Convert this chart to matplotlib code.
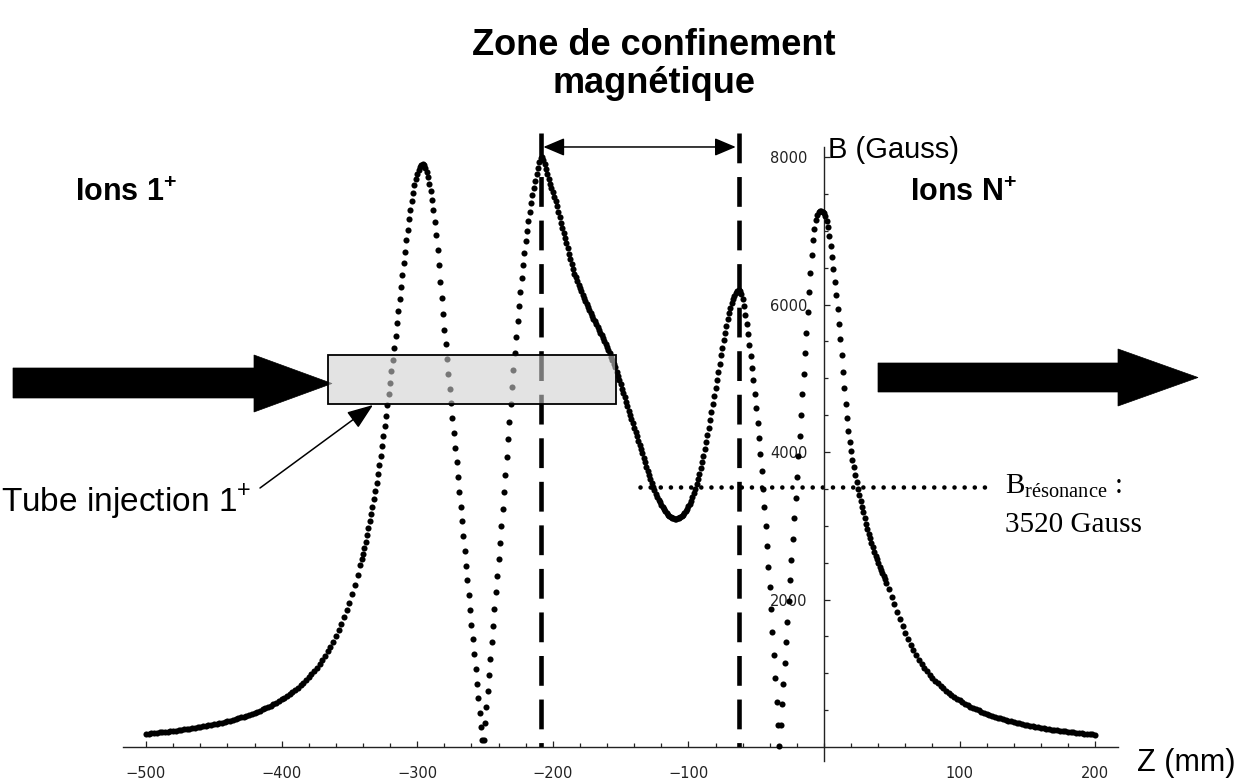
import numpy as np
import matplotlib
matplotlib.use("Agg")
import matplotlib.pyplot as plt
from matplotlib.patches import Polygon, Rectangle
from matplotlib.ticker import FixedLocator

plt.rcParams["mathtext.fontset"] = "custom"
plt.rcParams["mathtext.rm"] = "Liberation Serif"
plt.rcParams["mathtext.bf"] = "Liberation Sans:bold"
plt.rcParams["mathtext.sf"] = "Liberation Sans"

# ---- axial field profile B(z), gauss ----
# gentle tails sampled every 2 mm, the central region every 1 mm
b_tail_left = [178, 182, 185, 189, 193, 197, 201, 205, 209, 214,
               218, 223, 228, 233, 238, 243, 249, 254, 260, 266,
               273, 279, 286, 293, 300, 308, 316, 324, 332, 341,
               350, 359, 369, 379, 390, 401, 413, 425, 438, 451,
               465, 479, 494, 510, 527, 544, 562, 581, 601, 623,
               645, 668, 692, 719, 746, 775, 805, 838, 872, 908,
               947, 988, 1031, 1078, 1127, 1179, 1236, 1295, 1360, 1429,
               1502, 1580, 1665, 1756, 1853, 1958, 2071, 2194, 2326, 2467]   # z = -500 .. -342
b_peak1_rise = [2543, 2620, 2702, 2786, 2874, 2964, 3058, 3156, 3258, 3363,
                3473, 3586, 3704, 3824, 3950, 4080, 4213, 4350, 4492, 4638,
                4787, 4939, 5095, 5254, 5415, 5578, 5743, 5908, 6074, 6238,
                6401, 6561, 6718, 6871, 7017, 7156, 7286, 7407, 7517, 7615,
                7700, 7771, 7827, 7867, 7892]                                  # z = -341 .. -297
b_peak1_fall = [7900, 7885, 7850, 7795, 7725, 7640, 7540, 7420, 7280, 7120,
                6940, 6740, 6530, 6310, 6090, 5870, 5660, 5460, 5260, 5060,
                4860, 4660, 4460, 4260, 4060, 3860, 3660, 3460, 3260, 3060,
                2860, 2660, 2460, 2260, 2060, 1860, 1660, 1460, 1260, 1060,
                860, 660, 460, 270, 90]                                        # z = -296 .. -252
b_peak2_rise = [100, 320, 540, 760, 980, 1200, 1420, 1645, 1870, 2095,
                2320, 2545, 2770, 3000, 3230, 3460, 3690, 3930, 4170, 4410,
                4650, 4885, 5115, 5340, 5560, 5775, 5980, 6175, 6360, 6535,
                6700, 6855, 7000, 7135, 7260, 7375, 7480, 7580, 7675, 7765,
                7850, 7930, 7990]                                              # z = -251 .. -209
b_peak2_fall = [7995, 7960, 7900, 7840, 7775, 7708, 7640, 7580, 7520, 7460,
                7400, 7330, 7255, 7180, 7110, 7040, 6970, 6900, 6830, 6760,
                6690, 6620, 6553, 6486, 6420, 6368, 6318, 6268, 6220, 6177,
                6135, 6093, 6051, 6010, 5970, 5930, 5890, 5850, 5810, 5772,
                5734, 5696, 5658, 5620, 5580, 5540, 5500, 5460, 5420, 5378,
                5336, 5292, 5247, 5200, 5146, 5090, 5034, 4977, 4920, 4860,
                4800, 4740, 4680, 4620, 4562, 4504, 4446, 4388, 4330, 4272,
                4214, 4156, 4098, 4040, 3980, 3920, 3860, 3800, 3740, 3684,
                3630, 3578, 3528, 3480, 3436, 3394, 3354, 3316, 3280, 3250,
                3222, 3196, 3172, 3150, 3132, 3118, 3107, 3099]                # z = -208 .. -111
b_valley_rise = [3095, 3096, 3100, 3108, 3118, 3132, 3150, 3172, 3198, 3228,
                 3262, 3300, 3342, 3390, 3442, 3500, 3562, 3628, 3700, 3778,
                 3860, 3946, 4036, 4130, 4228, 4330, 4435, 4542, 4650, 4760,
                 4870, 4980, 5090, 5200, 5310, 5415, 5518, 5618, 5712, 5800,
                 5880, 5952, 6016, 6072, 6118, 6155, 6182, 6198]               # z = -110 .. -63
b_peak3_fall = [6185, 6140, 6070, 5975, 5860, 5735, 5600, 5455, 5300, 5140,
                4970, 4790, 4600, 4400, 4190, 3970, 3740, 3500, 3250, 2990,
                2720, 2445, 2165, 1870, 1560, 1250, 930, 610, 300, 20]         # z = -62 .. -33
b_peak4_rise = [300, 580, 860, 1140, 1420, 1700, 1980, 2260, 2540, 2820,
                3100, 3380, 3660, 3940, 4220, 4500, 4780, 5060, 5340, 5620,
                5900, 6170, 6430, 6670, 6870, 7030, 7140, 7210, 7250, 7265,
                7265, 7255]                                                    # z = -32 .. -1
b_peak4_fall = [7235, 7195, 7130, 7045, 6935, 6800, 6650, 6485, 6310, 6130,
                5940, 5740, 5530, 5310, 5090, 4870, 4650, 4460, 4290, 4140,
                4010, 3895, 3790, 3690, 3595, 3505, 3420, 3338, 3258, 3180,
                3104, 3030, 2960, 2892, 2828, 2766, 2707, 2650, 2596, 2544,
                2494, 2446, 2400, 2356, 2314, 2273]                            # z = 0 .. 45
b_tail_right = [2230, 2140, 2040, 1935, 1830, 1730, 1635, 1545, 1462, 1385,
                1313, 1247, 1186, 1129, 1077, 1027, 982, 940, 900, 863,
                828, 795, 764, 734, 706, 680, 655, 631, 609, 588,
                567, 548, 530, 512, 496, 480, 465, 450, 437, 424,
                411, 399, 387, 376, 366, 356, 346, 337, 328, 319,
                311, 303, 295, 288, 280, 274, 267, 261, 254, 248,
                243, 237, 232, 227, 222, 217, 212, 207, 203, 199,
                195, 191, 187, 183, 180, 176, 173, 169]                        # z = 46 .. 200

segments = [(-500, 2, b_tail_left), (-341, 1, b_peak1_rise), (-296, 1, b_peak1_fall),
            (-251, 1, b_peak2_rise), (-208, 1, b_peak2_fall), (-110, 1, b_valley_rise),
            (-62, 1, b_peak3_fall), (-32, 1, b_peak4_rise), (0, 1, b_peak4_fall),
            (46, 2, b_tail_right)]
z_all = np.concatenate([start + step * np.arange(len(vals)) for start, step, vals in segments])
b_all = np.concatenate([np.asarray(vals, dtype=float) for _, _, vals in segments])

x_ticks = [-500, -400, -300, -200, -100, 100, 200]
y_ticks = [2000, 4000, 6000, 8000]
z_zone = [-209, -63]          # limits of the confinement zone (mm)
b_resonance = 3520            # ECR resonance field (G)

# ---- figure ----
W, H = 1250, 781
fig = plt.figure(figsize=(W / 100, H / 100), dpi=100)
ax = fig.add_axes([0, 0, 1, 1])
ax.set_xlim(-607.7, 314.2)
ax.set_ylim(-461, 10129)


def fx(px):
    return px / W


def fy(py):
    return 1 - py / H


axis_col = "#222222"
for s in ("top", "right"):
    ax.spines[s].set_visible(False)
ax.spines["left"].set_position(("data", 0))
ax.spines["bottom"].set_position(("data", 0))
ax.spines["left"].set_bounds(-190, 8140)
ax.spines["bottom"].set_bounds(-517, 217)
for s in ("left", "bottom"):
    ax.spines[s].set_linewidth(1.0)
    ax.spines[s].set_color(axis_col)

ax.xaxis.set_major_locator(FixedLocator(x_ticks))
ax.xaxis.set_minor_locator(FixedLocator(np.arange(-500, 201, 20)))
ax.yaxis.set_major_locator(FixedLocator(y_ticks))
ax.yaxis.set_minor_locator(FixedLocator(np.arange(500, 8001, 500)))
ax.tick_params(which="major", direction="in", length=4.6, width=0.9, color=axis_col,
               labelsize=10.5, labelcolor="#222222", pad=12)
ax.tick_params(axis="x", which="major", pad=14)
ax.tick_params(which="minor", direction="in", length=2.6, width=0.9, color=axis_col)
ax.xaxis.set_ticks_position("bottom")
ax.yaxis.set_ticks_position("left")

# field samples
ax.plot(z_all, b_all, linestyle="none", marker="o", ms=4.4, mfc="black", mec="black",
        mew=0, zorder=3)

# confinement zone limits and span arrow
for zd in z_zone:
    ax.plot([zd, zd], [8330, 0], color="black", lw=3.3, dashes=(6.5, 3.0),
            dash_capstyle="butt", zorder=2)
ax.annotate("", xy=(z_zone[1], 8136), xytext=(z_zone[0], 8136),
            arrowprops=dict(arrowstyle="<|-|>,head_length=1.3,head_width=0.55",
                            mutation_scale=10, lw=1.1, color="black",
                            shrinkA=2, shrinkB=2), zorder=4)

# resonance level
ax.plot([-136, 125], [b_resonance, b_resonance], color="black", lw=3.3,
        dashes=(0.01, 2.2), dash_capstyle="round", zorder=2)

# big block arrows (ion beams)
left_arrow = [(13, 368), (254, 368), (254, 355), (332, 383.5), (254, 412), (254, 398), (13, 398)]
right_arrow = [(878, 363), (1118, 363), (1118, 349), (1198, 377.5), (1118, 406), (1118, 392), (878, 392)]
for pts in (left_arrow, right_arrow):
    ax.add_patch(Polygon([(fx(x), fy(y)) for x, y in pts], closed=True, transform=fig.transFigure,
                         facecolor="black", edgecolor="black", lw=0.5, zorder=4))

# injection tube (translucent)
ax.add_patch(Rectangle((fx(328), fy(404)), 288 / W, 49 / H, transform=fig.transFigure,
                       facecolor=(0.816, 0.816, 0.816, 0.576), edgecolor="black", lw=1.3,
                       zorder=5))
ax.annotate("", xy=(fx(373), fy(405)), xytext=(fx(260), fy(488)),
            xycoords="figure fraction", textcoords="figure fraction",
            arrowprops=dict(arrowstyle="-|>,head_length=1.6,head_width=0.6",
                            mutation_scale=10, lw=1.1, color="black",
                            shrinkA=0, shrinkB=0), zorder=6)

# ---- texts ----
sans = "Liberation Sans"
serif = "Liberation Serif"
fig.text(fx(654), fy(55), "Zone de confinement", ha="center", va="baseline",
         fontsize=26, fontweight="bold", family=sans)
fig.text(fx(654), fy(93), "magnétique", ha="center", va="baseline",
         fontsize=26, fontweight="bold", family=sans)
fig.text(fx(75), fy(201), r"Ions 1$^{\mathbf{+}}$", ha="left", va="baseline",
         fontsize=22, fontweight="bold", family=sans)
fig.text(fx(910), fy(201), r"Ions N$^{\mathbf{+}}$", ha="left", va="baseline",
         fontsize=22, fontweight="bold", family=sans)
fig.text(fx(828), fy(158), "B (Gauss)", ha="left", va="baseline", fontsize=21, family=sans)
fig.text(fx(1137), fy(771), "Z (mm)", ha="left", va="baseline", fontsize=22, family=sans)
fig.text(fx(1), fy(511), r"Tube injection 1$^{\mathsf{+}}$", ha="left", va="baseline",
         fontsize=24, family=sans)
fig.text(fx(1005), fy(493), r"$\mathrm{B}_{\mathrm{résonance}}$ :", ha="left", va="baseline",
         fontsize=21, family=serif)
fig.text(fx(1005), fy(532), "3520 Gauss", ha="left", va="baseline", fontsize=21, family=serif)

fig.savefig("out.png", dpi=100)
